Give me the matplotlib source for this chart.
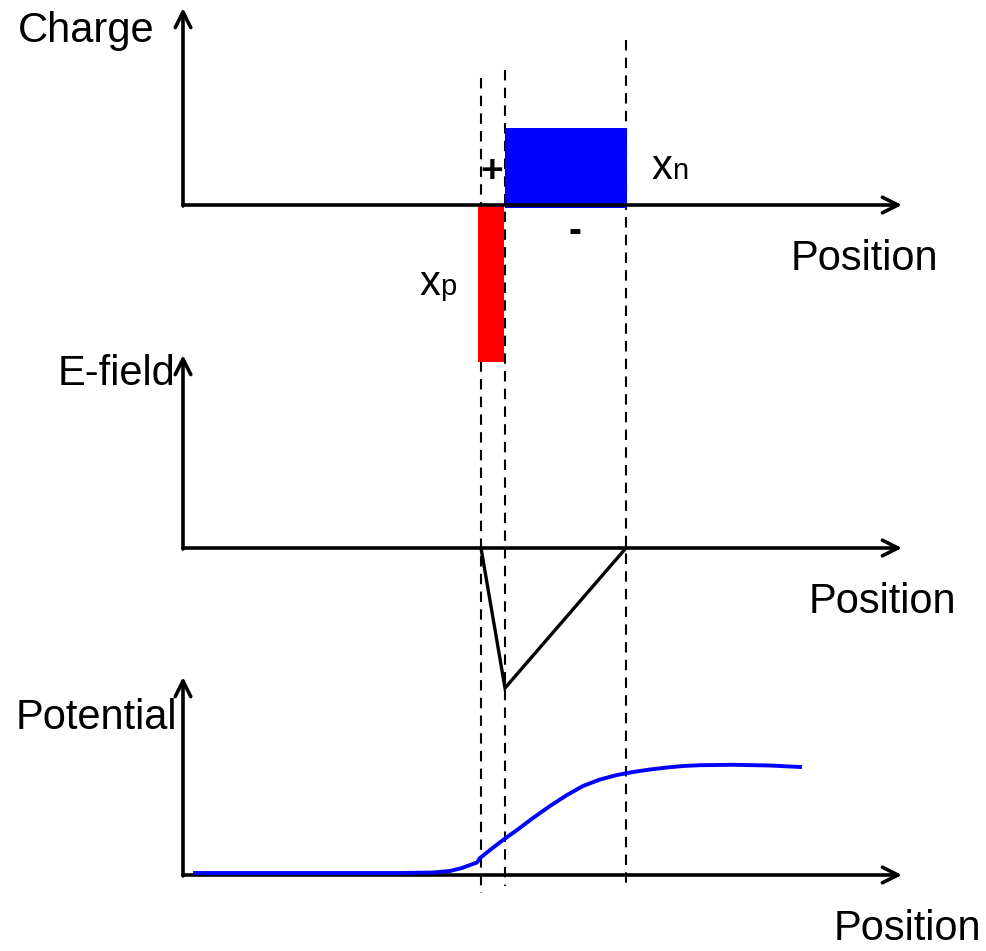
import matplotlib
matplotlib.use('Agg')
import matplotlib.pyplot as plt

plt.rcParams['font.family'] = ['Liberation Sans', 'DejaVu Sans']

# diagram coordinates (pixel-like units, y grows downward)
axis_x0 = 183
axis_end = 902
baselines = [205, 548, 875]          # charge, E-field, potential zero lines
axis_tops = [8, 355, 677]
panel_labels = ['Charge', 'E-field', 'Potential']
label_pos = [(18, 42), (58, 385), (16, 729)]
position_pos = [(791, 270), (809, 613), (834, 940)]

# depletion edges
x_p = 481
x_j = 505
x_n = 626
dash_top = [78, 70, 40]
dash_bottom = [893, 886, 890]

# charge blocks
red_bottom = 362
blue_top = 128

# E-field triangle
efield_x = [x_p, x_j, x_n]
efield_y = [548, 688, 548]

# potential curve
pot_x = [195, 300, 400, 433, 450, 462, 470, 477, 480, 490, 503, 517, 533, 550, 567,
         583, 600, 617, 633, 650, 667, 683, 700, 733, 770, 800]
pot_y = [873, 873, 873, 872.5, 871, 868, 865, 862.5, 858, 850, 840, 830, 818, 806, 795,
         786, 779.5, 775, 772, 769.5, 767.5, 766, 765.2, 764.8, 765.5, 767]

fig = plt.figure(figsize=(9.86, 9.51), dpi=100)
ax = fig.add_axes([0, 0, 1, 1])
ax.set_xlim(0, 986)
ax.set_ylim(951, 0)
ax.axis('off')

# dashed guide lines
for x, t, b in zip([x_p, x_j, x_n], dash_top, dash_bottom):
    ax.plot([x, x], [t, b], color='black', lw=1.5, ls=(0, (5, 3.5)), zorder=1)

# charge blocks
ax.bar(x_p - 3, red_bottom - baselines[0], width=x_j - x_p + 2, bottom=baselines[0],
       align='edge', color='#ff0000', zorder=2)
ax.bar(x_j, baselines[0] + 3 - blue_top, width=x_n - x_j + 1, bottom=blue_top,
       align='edge', color='#0000ff', zorder=2)

# axes with arrows
for base, top in zip(baselines, axis_tops):
    ax.annotate('', xy=(axis_end, base), xytext=(axis_x0, base),
                arrowprops=dict(arrowstyle='->', lw=2.6, color='black', mutation_scale=28,
                                shrinkA=0, shrinkB=0), zorder=3)
    ax.annotate('', xy=(axis_x0, top), xytext=(axis_x0, base + 1),
                arrowprops=dict(arrowstyle='->', lw=2.6, color='black', mutation_scale=28,
                                shrinkA=0, shrinkB=0), zorder=3)

# E-field and potential
ax.plot(efield_x, efield_y, color='black', lw=2.4, zorder=4, solid_joinstyle='miter')
ax.plot(pot_x, pot_y, color='#0000ff', lw=2.8, zorder=4)

# text
for lab, (x, y) in zip(panel_labels, label_pos):
    ax.text(x, y, lab, fontsize=30, ha='left', va='baseline')
for x, y in position_pos:
    ax.text(x, y, 'Position', fontsize=30, ha='left', va='baseline')

ax.text(492, 172, '+', fontsize=28, fontweight='bold', ha='center', va='center')
ax.text(575, 232, '-', fontsize=28, fontweight='bold', ha='center', va='center')
ax.text(652, 179, 'x', fontsize=30, ha='left', va='baseline')
ax.text(672, 179, 'n', fontsize=21, ha='left', va='baseline')
ax.text(420, 295, 'x', fontsize=30, ha='left', va='baseline')
ax.text(440, 295, 'p', fontsize=21, ha='left', va='baseline')

fig.savefig('out.png', dpi=100)
